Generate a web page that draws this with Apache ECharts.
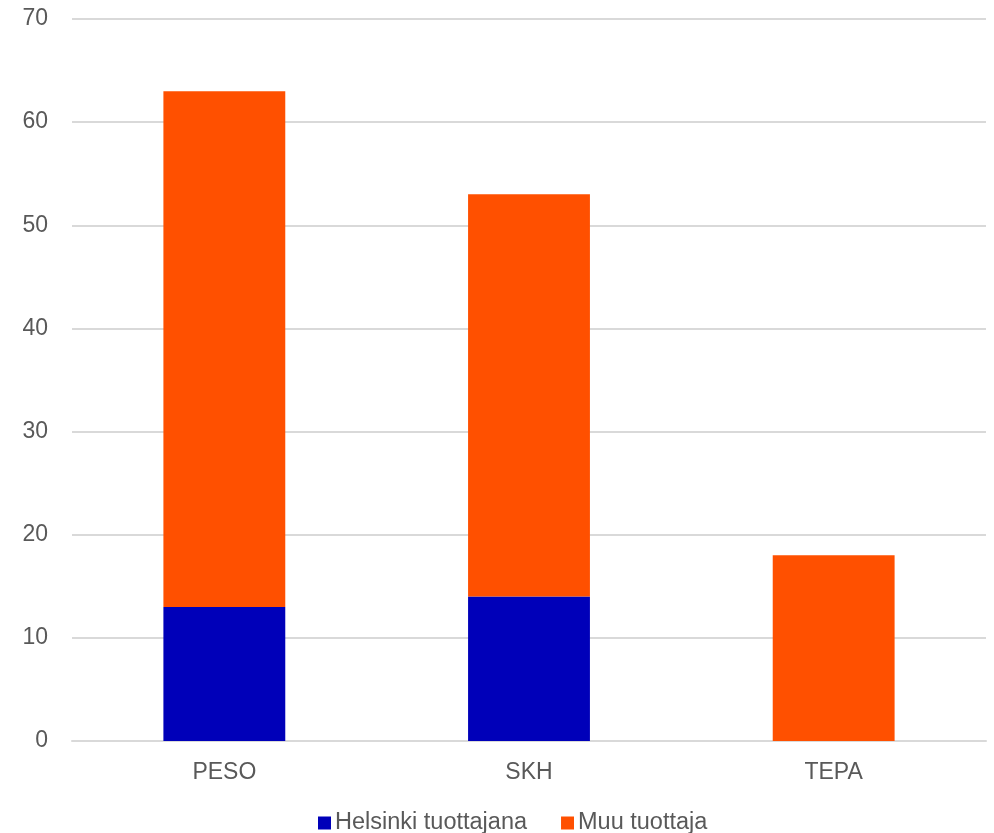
<!DOCTYPE html>
<html>
<head>
<meta charset="utf-8">
<script src="https://cdn.jsdelivr.net/npm/echarts@6/dist/echarts.min.js"></script>
<style>
  html, body { margin: 0; padding: 0; background: #ffffff; }
  #chart { width: 994px; height: 833px; }
</style>
</head>
<body>
<div id="chart"></div>
<script>
// Categories and stacked values
const categories = ['PESO', 'SKH', 'TEPA'];
const helsinkiValues = [13, 14, 0];
const muuValues = [50, 39, 18];
const seriesNames = ['Helsinki tuottajana', 'Muu tuottaja'];

const chart = echarts.init(document.getElementById('chart'));
const textColor = '#595959';
const fontFamily = '"Liberation Sans", Arial, sans-serif';

chart.setOption({
  animation: false,
  grid: { left: 72, right: 8, top: 19, bottom: 92, containLabel: false },
  legend: {
    top: 806,
    left: 313,
    itemWidth: 13,
    itemHeight: 13,
    itemGap: 34,
    icon: 'rect',
    textStyle: { color: textColor, fontSize: 23.5, fontFamily: fontFamily, padding: [0, 0, 0, -1] },
    data: seriesNames
  },
  xAxis: {
    type: 'category',
    data: categories,
    axisLine: { show: true, lineStyle: { color: '#d9d9d9', width: 2 } },
    axisTick: { show: false },
    axisLabel: { color: textColor, fontSize: 23, fontFamily: fontFamily, margin: 20 }
  },
  yAxis: {
    type: 'value',
    min: 0,
    max: 70,
    interval: 10,
    axisLine: { show: false },
    axisTick: { show: false },
    axisLabel: { color: textColor, fontSize: 23, fontFamily: fontFamily, margin: 24 },
    splitLine: { lineStyle: { color: '#d9d9d9', width: 2 } }
  },
  series: [
    {
      name: seriesNames[0],
      type: 'bar',
      stack: 'total',
      barWidth: '40%',
      itemStyle: { color: '#0000b9' },
      data: helsinkiValues
    },
    {
      name: seriesNames[1],
      type: 'bar',
      stack: 'total',
      barWidth: '40%',
      itemStyle: { color: '#ff5000' },
      data: muuValues
    }
  ]
});
</script>
</body>
</html>
